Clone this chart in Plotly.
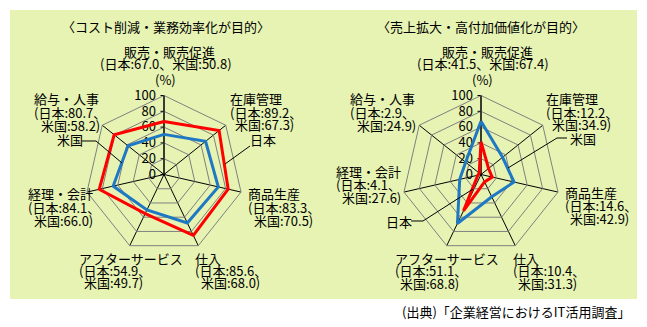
import plotly.graph_objects as go

W, H = 647, 327

# Seven business functions, clockwise from the top
categories = ["販売・販売促進", "在庫管理", "商品生産", "仕入", "アフターサービス", "経理・会計", "給与・人事"]

# Cost reduction / efficiency purpose (%)
cost_japan = [67.0, 89.2, 83.3, 85.6, 54.9, 84.1, 80.7]
cost_usa = [50.8, 67.3, 70.5, 68.0, 49.7, 66.0, 58.2]

# Sales expansion / added value purpose (%)
sales_japan = [41.5, 12.2, 14.6, 10.4, 51.1, 4.1, 2.9]
sales_usa = [67.4, 34.9, 42.9, 31.3, 68.8, 27.6, 24.9]

radial_ticks = [0, 20, 40, 60, 80, 100]

titles = ["〈コスト削減・業務効率化が目的〉", "〈売上拡大・高付加価値化が目的〉"]
source_text = "(出典)「企業経営におけるIT活用調査」"

RED = "#ff0000"
BLUE = "#1f78c4"
PANEL = "#e6f3b3"
FONT = "Noto Sans CJK JP"


def px(x):
    return x / W


def py(y):
    return 1 - y / H


def closed(v):
    return list(v) + [v[0]]


fig = go.Figure()

# Polar areas: centre (pixels) and radius
centres = [(164, 174.5), (481, 174.5)]
R = 79
datasets = [(cost_japan, cost_usa), (sales_japan, sales_usa)]

for i, ((cx, cy), (jp, us)) in enumerate(zip(centres, datasets)):
    name = "polar" if i == 0 else "polar2"
    fig.add_trace(go.Scatterpolar(
        r=closed(us), theta=closed(categories), mode="lines",
        line=dict(color=BLUE, width=3), subplot=name, name="米国",
        hoverinfo="skip", showlegend=False))
    fig.add_trace(go.Scatterpolar(
        r=closed(jp), theta=closed(categories), mode="lines",
        line=dict(color=RED, width=3), subplot=name, name="日本",
        hoverinfo="skip", showlegend=False))
    polar = dict(
        domain=dict(x=[px(cx - R), px(cx + R)], y=[py(cy + R), py(cy - R)]),
        bgcolor="rgba(0,0,0,0)",
        gridshape="linear",
        radialaxis=dict(
            range=[0, 100], tickvals=radial_ticks, angle=90, tickangle=90,
            side="counterclockwise", showline=True, linecolor="black",
            linewidth=1, gridcolor="#808080", gridwidth=1,
            ticks="outside", ticklen=3, tickcolor="black",
            tickfont=dict(family=FONT, size=13, color="black"),
            layer="below traces"),
        angularaxis=dict(
            categoryarray=categories, categoryorder="array",
            rotation=90, direction="clockwise", showticklabels=False,
            ticks="", showline=True, linecolor="#808080", linewidth=1,
            gridcolor="black", gridwidth=1, layer="below traces"),
    )
    fig.update_layout(**{name: polar})

# Label text: (text, left x, centre y)
labels = [
    # left panel
    ("販売・販売促進", 122, 52),
    ("(日本:67.0、米国:50.8)", 98, 64),
    ("(%)", 153, 80),
    ("給与・人事", 32, 99),
    ("(日本:80.7、", 32, 112),
    ("米国:58.2)", 39, 125),
    ("在庫管理", 228, 99),
    ("(日本:89.2、", 228, 112),
    ("米国:67.3)", 233, 124),
    ("米国", 55, 140),
    ("日本", 248, 140),
    ("経理・会計", 26, 193),
    ("(日本:84.1、", 26, 207),
    ("米国:66.0)", 32, 220),
    ("商品生産", 246, 193),
    ("(日本:83.3、", 246, 207),
    ("米国:70.5)", 252, 220),
    ("アフターサービス", 77, 258),
    ("(日本:54.9、", 77, 270),
    ("米国:49.7)", 82, 282),
    ("仕入", 193, 258),
    ("(日本:85.6、", 193, 270),
    ("米国:68.0)", 199, 282),
    # right panel
    ("販売・販売促進", 440, 52),
    ("(日本:41.5、米国:67.4)", 415, 64),
    ("(%)", 470, 80),
    ("給与・人事", 348, 99),
    ("(日本:2.9、", 348, 112),
    ("米国:24.9)", 355, 125),
    ("在庫管理", 544, 99),
    ("(日本:12.2、", 544, 112),
    ("米国:34.9)", 550, 124),
    ("米国", 568, 138),
    ("経理・会計", 334, 171),
    ("(日本:4.1、", 334, 184),
    ("米国:27.6)", 340, 197),
    ("商品生産", 563, 192),
    ("(日本:14.6、", 563, 205),
    ("米国:42.9)", 568, 218),
    ("日本", 384, 221),
    ("アフターサービス", 393, 258),
    ("(日本:51.1、", 393, 270),
    ("米国:68.8)", 398, 283),
    ("仕入", 511, 258),
    ("(日本:10.4、", 511, 270),
    ("米国:31.3)", 516, 283),
]

annotations = []
for text, x, y in labels:
    annotations.append(dict(
        text=text, x=px(x), y=py(y), xref="paper", yref="paper",
        xanchor="left", yanchor="middle", showarrow=False,
        font=dict(family=FONT, size=13, color="black")))

for text, cx in zip(titles, [166, 481]):
    annotations.append(dict(
        text=text, x=px(cx), y=py(27), xref="paper", yref="paper",
        xanchor="center", yanchor="middle", showarrow=False,
        font=dict(family=FONT, size=13, color="black")))

annotations.append(dict(
    text=source_text, x=px(632), y=py(311), xref="paper", yref="paper",
    xanchor="right", yanchor="middle", showarrow=False,
    font=dict(family=FONT, size=13, color="black")))

# Background panel and leader lines
shapes = [dict(type="rect", xref="paper", yref="paper",
               x0=px(10), x1=px(637), y0=py(299), y1=py(10),
               fillcolor=PANEL, line=dict(width=0), layer="below")]

leaders = [
    [(82, 141), (96, 141), (122, 163)],   # 米国, left
    [(250, 146), (225, 164)],             # 日本, left
    [(567, 138), (557, 138), (508, 168)],  # 米国, right
    [(411, 221), (423, 221), (473, 189)],  # 日本, right
]
for pts in leaders:
    path = "M " + " L ".join(f"{px(x):.5f},{py(y):.5f}" for x, y in pts)
    shapes.append(dict(type="path", xref="paper", yref="paper", path=path,
                       line=dict(color="black", width=1)))

fig.update_layout(
    width=W, height=H, margin=dict(l=0, r=0, t=0, b=0),
    paper_bgcolor="white", plot_bgcolor="white",
    annotations=annotations, shapes=shapes, showlegend=False,
    font=dict(family=FONT, size=13, color="black"),
)

fig.write_html("out.html")
